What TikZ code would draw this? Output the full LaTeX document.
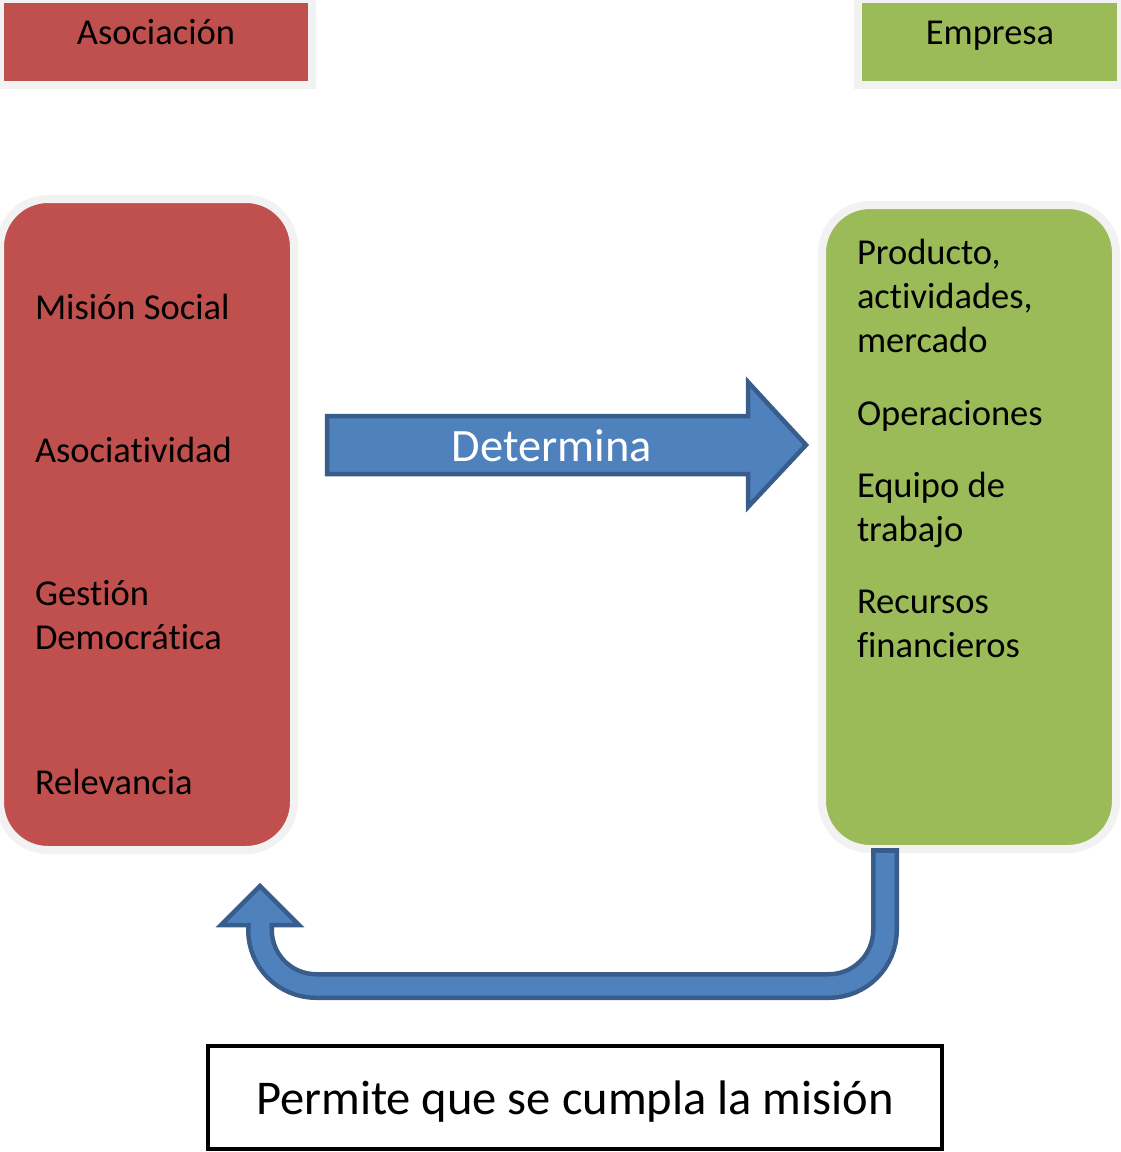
\documentclass[tikz,border=0pt]{standalone}
\usepackage{fontspec}
\setmainfont{Carlito}[Ligatures=NoCommon]
\usepackage{tikz}
\usetikzlibrary{positioning}

\definecolor{asocred}{HTML}{C0504D}
\definecolor{empgreen}{HTML}{9BBB59}
\definecolor{shadowgray}{HTML}{F2F2F2}
\definecolor{arrowblue}{HTML}{4F81BD}
\definecolor{arrowedge}{HTML}{385D8A}

\tikzset{
    headbox/.style={draw=shadowgray, line width=8pt},
    blockbox/.style={draw=shadowgray, line width=8pt, rounded corners=48pt},
    boxtext/.style={font=\fontsize{36.5}{44}\selectfont, align=left, anchor=base west},
    headtext/.style={font=\fontsize{36.5}{44}\selectfont, anchor=base},
    blockarrow/.style={fill=arrowblue, draw=arrowedge, line width=4.5pt, line join=miter},
}

\begin{document}
\begin{tikzpicture}[x=1pt, y=-1pt, every node/.style={inner sep=0pt, outer sep=0pt}]

    \useasboundingbox (0,0) rectangle (1120,1152);

	% the two headers
	\node[headbox, fill=asocred, minimum width=312pt, minimum height=86pt] (asoc) at (156,42) {};
	\node[headbox, fill=empgreen, minimum width=263pt, minimum height=86pt] (emp) at (989.5,42) {};
	\node[headtext] (asoclabel) at (156,44) {Asociación};
	\node[headtext] (emplabel) at (990,44) {Empresa};

	% the two columns
	\node[blockbox, fill=asocred, minimum width=294pt, minimum height=651pt] (asocbox) at (147,524.5) {};
	\node[blockbox, fill=empgreen, minimum width=294pt, minimum height=644pt] (empbox) at (969,527) {};

	% Asociacion side (base = baseline of the last line)
	\node[boxtext] (mision) at (35,319) {Misión Social};
	\node[boxtext] (asociat) at (35,462) {Asociatividad};
	\node[boxtext] (gestion) at (35,649) {Gestión\\Democrática};
	\node[boxtext] (relev) at (35,794) {Relevancia};

	% Empresa side
	\node[boxtext] (producto) at (857,352) {Producto,\\actividades,\\mercado};
	\node[boxtext] (operac) at (857,425) {Operaciones};
	\node[boxtext] (equipo) at (857,541) {Equipo de\\trabajo};
	\node[boxtext] (recursos) at (857,657) {Recursos\\financieros};

	%%%%%%%%%%%%%%%%%%%%%%%%%%%%%%%%%%%%%%%%%%%%%%%%%%%%%%%%%%%%%%
	% block arrow, left to right
	\coordinate (dtail) at (327,445);
	\coordinate (dtip) at (806,445);
	\draw[blockarrow] ([yshift=29pt]dtail) -- ++(421,0) -- ++(0,-34) -- (dtip)
		-- ++(-58,62) -- ++(0,-33) -- ++(-421,0) -- cycle;
	\node[font=\fontsize{46.4}{50}\selectfont, text=white, anchor=base] (det) at (552,461) {Determina};

	% U-turn arrow, back from Empresa to Asociacion
	\coordinate (ustart) at (885,848);
	\coordinate (uend) at (260,925);
	\draw[arrowedge, line width=28pt, rounded corners=56pt]
		(ustart) -- ++(0,138) -- ++(-625,0) -- (uend);
	\draw[arrowblue, line width=19pt, rounded corners=56pt]
		([yshift=-5pt]ustart) -- ++(0,133) -- ++(-625,0) -- (uend);
	\fill[arrowblue] ([xshift=-39pt]uend) -- ([yshift=39pt]uend) -- ([xshift=39pt]uend) -- cycle;
	\draw[arrowedge, line width=4.5pt, line join=miter]
		([xshift=-9.5pt]uend) -- ([xshift=-39pt]uend) -- ([yshift=39pt]uend)
		-- ([xshift=39pt]uend) -- ([xshift=9.5pt]uend);

	% closing statement
	\node[draw=black, line width=4pt, minimum width=734pt, minimum height=103pt,
		font=\fontsize{48.5}{52}\selectfont, text height=33pt, text depth=0pt]
		(permite) at (575,1097.5) {Permite que se cumpla la misión};

\end{tikzpicture}
\end{document}
